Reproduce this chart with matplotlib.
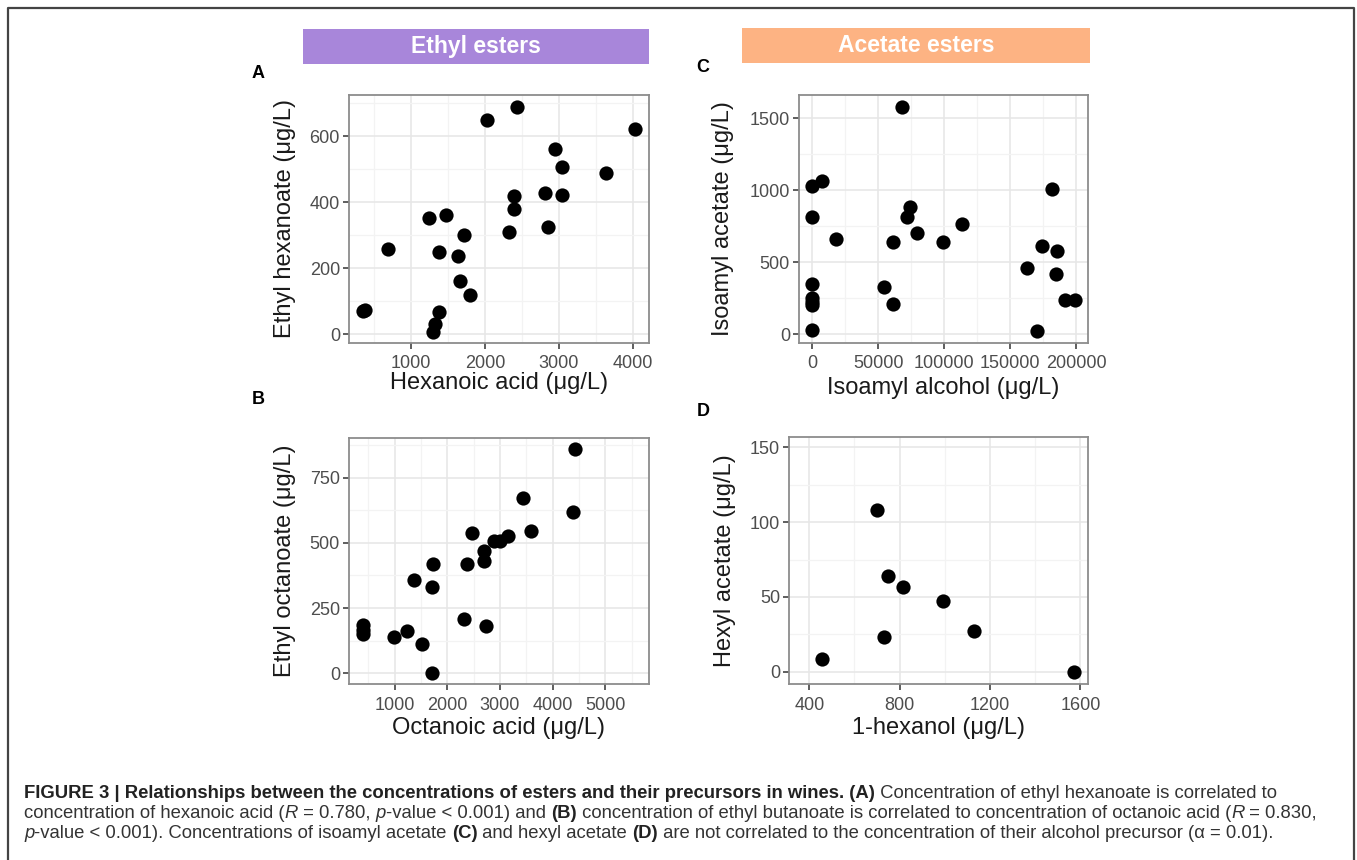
import matplotlib
matplotlib.use("Agg")
import matplotlib.pyplot as plt
from matplotlib.patches import Rectangle
from matplotlib.lines import Line2D

plt.rcParams["font.family"] = ["Liberation Sans", "DejaVu Sans"]

# Panel A: hexanoic acid vs ethyl hexanoate
hexanoic_acid = [350, 375, 694, 1243, 1468, 1373, 1715, 1634, 1661, 1796, 1382, 1324, 1301,
                 2030, 2426, 2322, 2394, 2394, 2817, 2853, 2939, 3047, 3047, 3640, 4023]
ethyl_hexanoate = [72, 74, 258, 353, 360, 249, 300, 238, 161, 119, 68, 30, 8,
                   648, 689, 311, 419, 379, 429, 324, 560, 505, 421, 487, 621]

# Panel B: octanoic acid vs ethyl octanoate
octanoic_acid = [405, 405, 405, 994, 1228, 1525, 1703, 1361, 1703, 1728, 2323, 2373,
                 2468, 2696, 2696, 2728, 2892, 3000, 3158, 3437, 3589, 4380, 4424]
ethyl_octanoate = [185, 166, 150, 140, 162, 111, 0, 357, 329, 420, 209, 420,
                   538, 469, 429, 181, 509, 509, 528, 671, 545, 620, 860]

# Panel C: isoamyl alcohol vs isoamyl acetate
isoamyl_alcohol = [0, 0, 0, 0, 0, 0, 0, 7557, 18136, 54660, 61460, 61460, 68010, 71536,
                   74055, 79093, 99244, 113854, 162720, 170529, 174307, 181612, 185642,
                   184383, 191436, 198740]
isoamyl_acetate = [30, 200, 225, 250, 350, 817, 1032, 1067, 660, 326, 211, 639, 1581, 817,
                   880, 701, 639, 766, 458, 18, 609, 1009, 579, 417, 238, 238]

# Panel D: 1-hexanol vs hexyl acetate
hexanol = [455, 698, 732, 748, 817, 990, 1130, 1572]
hexyl_acetate = [8.2, 108.5, 23.2, 64.2, 56.8, 47.2, 27.2, 0]

W, H = 1357, 860
fig = plt.figure(figsize=(W / 100, H / 100), dpi=100)

def box(l, t, r, b):
    return [l / W, 1 - b / H, (r - l) / W, (b - t) / H]

def panel(rect, x, y, xlim, ylim, xmaj, xmin, ymaj, ymin, xlab, ylab, xlab_y, ylab_x):
    ax = fig.add_axes(rect)
    ax.scatter(x, y, s=105, color="black", linewidths=0, zorder=3)
    ax.set_xlim(xlim)
    ax.set_ylim(ylim)
    ax.set_xticks(xmaj)
    ax.set_xticks(xmin, minor=True)
    ax.set_yticks(ymaj)
    ax.set_yticks(ymin, minor=True)
    ax.grid(True, which="major", color="#E6E6E6", lw=1.1)
    ax.grid(True, which="minor", color="#F3F3F3", lw=0.9)
    ax.set_axisbelow(True)
    for s in ax.spines.values():
        s.set_color("#8C8C8C")
        s.set_linewidth(1.3)
    ax.tick_params(which="major", length=4, width=1.1, color="#333333",
                   labelsize=13, labelcolor="#4D4D4D")
    ax.tick_params(axis="x", pad=5)
    ax.tick_params(axis="y", pad=2.5)
    ax.tick_params(which="minor", length=0)
    ax.set_xlabel(xlab, fontsize=17, color="#1A1A1A")
    ax.set_ylabel(ylab, fontsize=17, color="#1A1A1A")
    ax.xaxis.set_label_coords(0.5, xlab_y)
    ax.yaxis.set_label_coords(ylab_x, 0.5)
    ax.xaxis.label.set_va("center")
    ax.yaxis.label.set_va("center")
    return ax

panel(box(349, 95, 649, 343), hexanoic_acid, ethyl_hexanoate, (162, 4216), (-26, 724),
      [1000, 2000, 3000, 4000], [500, 1500, 2500, 3500], [0, 200, 400, 600], [100, 300, 500, 700],
      "Hexanoic acid (μg/L)", "Ethyl hexanoate (μg/L)", -0.161, -0.213)
panel(box(349, 438, 649, 684), octanoic_acid, ethyl_octanoate, (133, 5829), (-41, 902),
      [1000, 2000, 3000, 4000, 5000], [500, 1500, 2500, 3500, 4500, 5500],
      [0, 250, 500, 750], [125, 375, 625, 875],
      "Octanoic acid (μg/L)", "Ethyl octanoate (μg/L)", -0.179, -0.213)
panel(box(799, 95, 1088, 343), isoamyl_alcohol, isoamyl_acetate, (-9824, 208816), (-62, 1662),
      [0, 50000, 100000, 150000, 200000], [25000, 75000, 125000, 175000],
      [0, 500, 1000, 1500], [250, 750, 1250],
      "Isoamyl alcohol (μg/L)", "Isoamyl acetate (μg/L)", -0.181, -0.263)
panel(box(789, 437, 1088, 684), hexanol, hexyl_acetate, (310, 1634), (-8.2, 157),
      [400, 800, 1200, 1600], [600, 1000, 1400], [0, 50, 100, 150], [25, 75, 125],
      "1-hexanol (μg/L)", "Hexyl acetate (μg/L)", -0.179, -0.214)

# outer frame
fx = [8 / W, 8 / W, 1354 / W, 1354 / W]
fy = [-0.1, 1 - 8 / H, 1 - 8 / H, -0.1]
fig.add_artist(Line2D(fx, fy, color="#444444", lw=1.6, transform=fig.transFigure))

# header bars
for (l, t, r, b), col, lab in [((303, 29, 649, 64), "#A886DA", "Ethyl esters"),
                              ((742, 28, 1090, 63), "#FDB383", "Acetate esters")]:
    fig.add_artist(Rectangle((l / W, 1 - b / H), (r - l) / W, (b - t) / H,
                             transform=fig.transFigure, color=col, lw=0))
    fig.text((l + r) / 2 / W, 1 - (t + b) / 2 / H, lab, color="white", fontsize=16.5,
             fontweight="bold", ha="center", va="center")

# panel letters
for x, y, letter in [(258, 73, "A"), (258, 400, "B"), (703, 68, "C"), (703, 412, "D")]:
    fig.text(x / W, 1 - y / H, letter, fontsize=13, fontweight="bold", ha="center", va="center")

# caption with mixed styles
cap_font = ["Liberation Sans", "DejaVu Sans"]
cap_size = 13.3
renderer = fig.canvas.get_renderer()

def runs(x, y, parts):
    for txt, st in parts:
        t = fig.text(x / W, 1 - y / H, txt, fontsize=cap_size, family=cap_font,
                     fontweight="bold" if st == "b" else "normal",
                     fontstyle="italic" if st == "i" else "normal",
                     color="#222222" if st == "b" else "#333333", va="baseline")
        x += t.get_window_extent(renderer).width

runs(24, 798, [("FIGURE 3 | Relationships between the concentrations of esters and their precursors in wines. (A)", "b"),
               (" Concentration of ethyl hexanoate is correlated to", "n")])
runs(24, 818, [("concentration of hexanoic acid (", "n"), ("R", "i"), (" = 0.780, ", "n"), ("p", "i"),
               ("-value < 0.001) and ", "n"), ("(B)", "b"),
               (" concentration of ethyl butanoate is correlated to concentration of octanoic acid (", "n"),
               ("R", "i"), (" = 0.830,", "n")])
runs(24, 838, [("p", "i"), ("-value < 0.001). Concentrations of isoamyl acetate ", "n"), ("(C)", "b"),
               (" and hexyl acetate ", "n"), ("(D)", "b"),
               (" are not correlated to the concentration of their alcohol precursor (α = 0.01).", "n")])

fig.savefig("out.png", dpi=100)
